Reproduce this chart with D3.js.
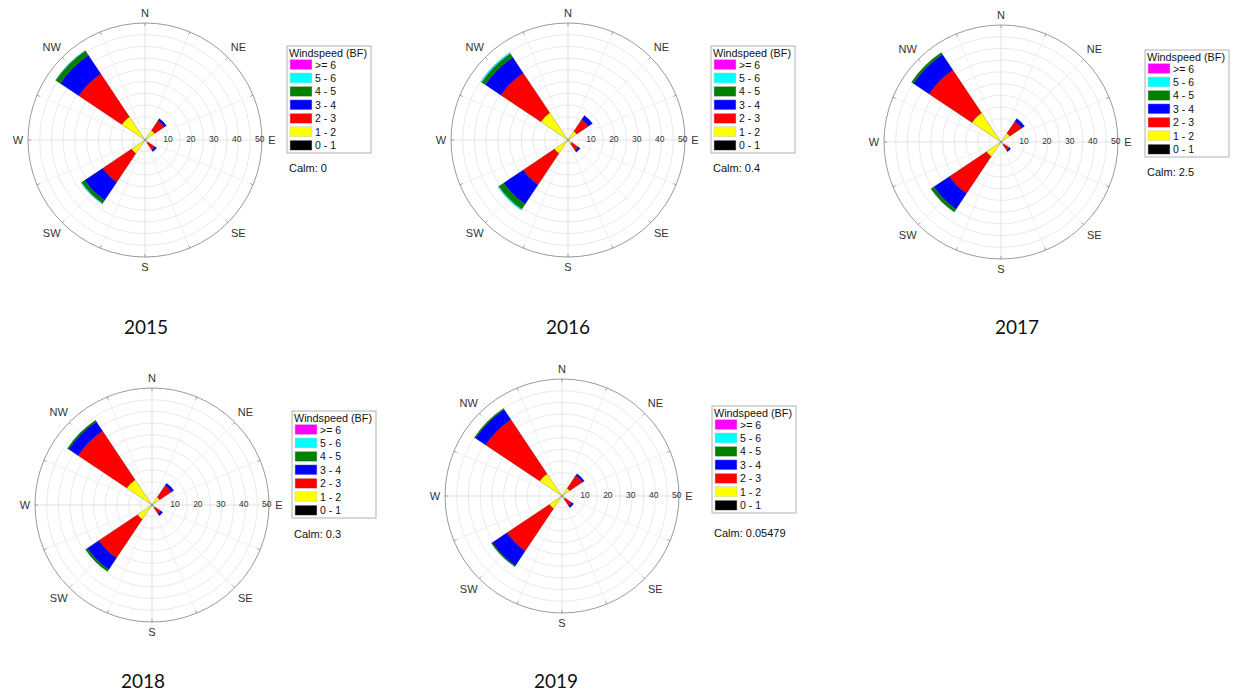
<!DOCTYPE html>
<html><head><meta charset="utf-8">
<script src="https://cdn.jsdelivr.net/npm/d3@7/dist/d3.min.js"></script>
<style>
html,body{margin:0;padding:0;background:#fff;}
svg{display:block;font-family:"Liberation Sans",Arial,sans-serif;}
</style></head><body>
<svg id="chart" width="1238" height="691"></svg>
<script>
// ---------- data ----------
const compass = ["N","NNE","NE","ENE","E","ESE","SE","SSE","S","SSW","SW","WSW","W","WNW","NW","NNW"];
const compassLabels = ["N","NE","E","SE","S","SW","W","NW"];
const speedClasses = ["0 - 1","1 - 2","2 - 3","3 - 4","4 - 5","5 - 6",">= 6"];
const speedColors = ["#000000","#ffff00","#ff0000","#0000ff","#008000","#00ffff","#ff00ff"];
const radialTicks = [10,20,30,40,50];
const gridRings = [5,10,15,20,25,30,35,40,45];
const years = ["2015","2016","2017","2018","2019"];
const calmValues = ["0","0.4","2.5","0.3","0.05479"];
const directions = ["NE","SE","SW","NW"];
// frequency (%) per direction, per speed class (0-1,1-2,2-3,3-4,4-5,5-6,>=6)
const freq2015 = [
  [0.3,4.7,5.0,1.0,0,0,0],
  [0.3,1.2,3.5,1.0,0,0,0],
  [0.3,6.7,14.7,9.3,1.5,0.4,0],
  [0.3,11.7,22.0,9.5,2.3,0.2,0]
];
const freq2016 = [
  [0.3,4.2,6.0,2.1,0,0,0],
  [0.3,1.7,3.3,1.0,0,0,0],
  [0.3,6.7,16.0,10.0,2.5,0.5,0],
  [0.3,13.7,20.5,8.0,1.8,0.5,0]
];
const freq2017 = [
  [0.3,4.2,6.1,1.5,0,0,0],
  [0.3,1.2,2.8,0.7,0,0,0],
  [0.3,7.2,19.0,8.0,1.5,0,0],
  [0.3,14.7,22.0,8.0,1.0,0,0]
];
const freq2018 = [
  [0.3,3.7,6.0,1.2,0,0,0],
  [0.3,1.2,3.0,1.0,0,0,0],
  [0.3,7.2,19.8,5.9,1.0,0,0],
  [0.3,12.7,25.0,4.8,0.7,0,0]
];
const freq2019 = [
  [0.3,3.7,6.5,1.0,0,0,0],
  [0.3,1.2,3.5,1.0,0,0,0],
  [0.3,6.2,21.8,7.5,0.5,0,0],
  [0.3,11.2,27.8,5.2,0.5,0,0]
];
const freqByYear = [freq2015,freq2016,freq2017,freq2018,freq2019];

// ---------- layout ----------
const layout = [
  {cx:145, cy:140, lx:287, ly:46,  calmY:168, yx:146, yy:326},
  {cx:568, cy:140, lx:711, ly:46,  calmY:168, yx:568, yy:326},
  {cx:1001,cy:142, lx:1145,ly:50,  calmY:172, yx:1017,yy:326},
  {cx:152, cy:505, lx:292, ly:411, calmY:534, yx:143, yy:680},
  {cx:562, cy:496, lx:712, ly:406, calmY:533, yx:556, yy:680}
];
const R = 117;

const svg = d3.select("#chart");
const r = d3.scaleLinear().domain([0,50]).range([0,R]);
const ang = d3.scaleLinear().domain([0,16]).range([0,2*Math.PI]);
const color = d3.scaleOrdinal().domain(speedClasses).range(speedColors);
const halfW = Math.PI/16;

years.forEach((yr, yi) => {
  const L = layout[yi];
  const g = svg.append("g").attr("transform",`translate(${L.cx},${L.cy})`);

  // grid rings
  g.selectAll("circle.ring").data(gridRings).enter().append("circle")
    .attr("r", d => r(d)).attr("fill","none").attr("stroke","#e3e3e3").attr("stroke-width",0.8);
  // radial spokes
  g.selectAll("line.spoke").data(d3.range(16)).enter().append("line")
    .attr("x1",0).attr("y1",0)
    .attr("x2", d => R*Math.sin(ang(d))).attr("y2", d => -R*Math.cos(ang(d)))
    .attr("stroke", d => d%4===0 ? "#dcdcdc" : "#ececec").attr("stroke-width",0.8);

  // bars
  const table = directions.map((dir, di) => {
    const o = {dir: dir, idx: compass.indexOf(dir)};
    speedClasses.forEach((s, si) => o[s] = freqByYear[yi][di][si]);
    return o;
  });
  const stacked = d3.stack().keys(speedClasses)(table);
  const arc = d3.arc();
  stacked.forEach(layer => {
    g.selectAll(null).data(layer.filter(d => d[1]-d[0] > 0)).enter().append("path")
      .attr("d", d => arc({innerRadius: r(d[0]), outerRadius: r(d[1]),
        startAngle: ang(d.data.idx)-halfW, endAngle: ang(d.data.idx)+halfW}))
      .attr("fill", color(layer.key))
      .attr("stroke","#202020").attr("stroke-width",0.35).attr("stroke-opacity",0.7);
  });

  // outer circle
  g.append("circle").attr("r",R).attr("fill","none").attr("stroke","#9a9a9a").attr("stroke-width",1);
  // ticks on outer circle
  g.selectAll("line.tick").data(d3.range(16)).enter().append("line")
    .attr("x1", d => R*Math.sin(ang(d))).attr("y1", d => -R*Math.cos(ang(d)))
    .attr("x2", d => (R-3)*Math.sin(ang(d))).attr("y2", d => -(R-3)*Math.cos(ang(d)))
    .attr("stroke","#8a8a8a").attr("stroke-width",0.8);

  // radial tick labels
  g.selectAll("text.rt").data(radialTicks).enter().append("text")
    .attr("x", d => r(d)*0.98).attr("y",-1)
    .attr("text-anchor","middle").attr("dominant-baseline","central")
    .attr("font-size",8.5).attr("fill","#333").text(d => d);

  // compass labels
  g.selectAll("text.cl").data(compassLabels).enter().append("text")
    .attr("x", (d,i) => { const a = ang(i*2); const dd = R + 10 + 5*Math.abs(Math.sin(2*a)); return dd*Math.sin(a); })
    .attr("y", (d,i) => { const a = ang(i*2); const dd = R + 10 + 5*Math.abs(Math.sin(2*a)); return -dd*Math.cos(a); })
    .attr("text-anchor","middle").attr("dominant-baseline","central")
    .attr("font-size",11).attr("fill","#333").text(d => d);

  // legend
  const lg = svg.append("g").attr("transform",`translate(${L.lx},${L.ly})`);
  lg.append("rect").attr("x",0).attr("y",0).attr("width",84).attr("height",107)
    .attr("fill","#fff").attr("stroke","#b0b0b0").attr("stroke-width",1);
  lg.append("text").attr("x",2).attr("y",7).attr("dominant-baseline","central")
    .attr("font-size",10.8).attr("fill","#111").text("Windspeed (BF)");
  const rows = speedClasses.slice().reverse();
  rows.forEach((s, i) => {
    lg.append("rect").attr("x",3).attr("y",13.5 + i*13.45).attr("width",22).attr("height",10)
      .attr("fill", color(s)).attr("stroke","#ccc").attr("stroke-width",0.5);
    lg.append("text").attr("x",28).attr("y",18.5 + i*13.45).attr("dominant-baseline","central")
      .attr("font-size",10.5).attr("fill","#111").text(s);
  });
  svg.append("text").attr("x", L.lx+2).attr("y", L.calmY).attr("dominant-baseline","central")
    .attr("font-size",11).attr("fill","#111").text("Calm: " + calmValues[yi]);

  // year label
  svg.append("text").attr("x", L.yx).attr("y", L.yy).attr("text-anchor","middle")
    .attr("dominant-baseline","central").attr("font-family","Lato, 'Open Sans', sans-serif")
    .attr("font-size",19).attr("fill","#111").text(yr);
});
</script>
</body></html>
